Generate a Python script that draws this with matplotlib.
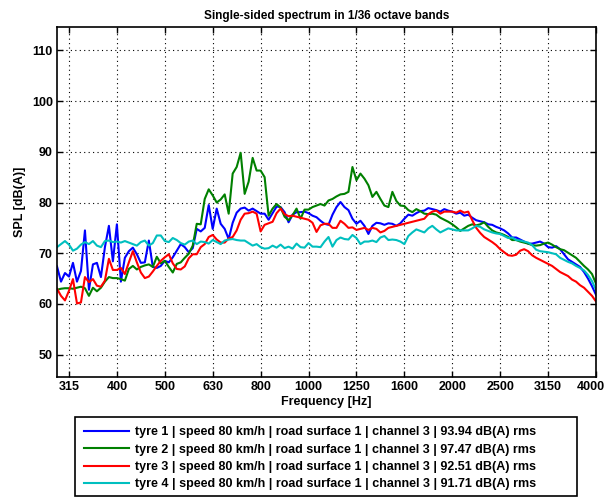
import matplotlib
matplotlib.use("Agg")
import matplotlib.pyplot as plt
from matplotlib.patches import Rectangle
from matplotlib.transforms import ScaledTranslation
import numpy as np

plt.rcParams['font.family'] = ['Liberation Sans', 'DejaVu Sans']
plt.rcParams['font.weight'] = 'bold'

# 1/36 octave band index (0 = 1000 Hz), 297 Hz .. 4000 Hz
band = np.arange(-63, 73)
freq = 1000 * 2 ** (band / 36)

# SPL in dB(A), one row per third octave
spl_tyre1 = [
    67.4, 64.4, 66.1, 65.4, 68.1, 64.4, 66.5, 74.5, 62.8, 67.8, 68.1, 65.3,
    71.2, 75.4, 68.4, 75.7, 64.4, 69.1, 70.4, 71.1, 69.8, 68.1, 68.2, 72.5,
    67.3, 67.1, 67.5, 68.5, 68.2, 69.2, 70.5, 71.8, 71.2, 70.2, 71.0, 74.8,
    74.3, 75.0, 79.5, 74.8, 78.8, 75.8, 74.8, 72.8, 76.0, 78.0, 78.8, 79.0,
    78.4, 78.8, 78.3, 77.8, 77.8, 76.6, 77.9, 79.2, 79.1, 78.1, 76.1, 77.6,
    78.1, 78.1, 78.2, 77.9, 77.4, 77.1, 76.4, 75.8, 75.6, 77.6, 79.1, 80.1,
    79.1, 78.5, 76.8, 75.8, 76.4, 75.4, 73.8, 75.4, 76.0, 75.9, 75.6, 75.9,
    75.8, 75.4, 75.9, 76.8, 77.6, 77.4, 77.9, 78.3, 78.4, 78.9, 78.7, 78.5,
    78.2, 78.7, 78.4, 78.2, 77.8, 78.0, 77.4, 77.6, 77.0, 76.5, 76.3, 76.1,
    75.7, 75.6, 75.2, 74.9, 74.5, 73.9, 73.1, 73.1, 72.7, 72.3, 71.9, 71.9,
    72.1, 72.3, 71.9, 71.2, 71.1, 71.4, 70.8, 69.8, 68.8, 68.3, 67.8, 67.3,
    66.3, 65.0, 63.5, 61.8,
]
spl_tyre2 = [
    62.8, 63.0, 63.1, 63.1, 63.0, 63.2, 63.4, 63.1, 61.6, 63.2, 62.5, 63.2,
    64.4, 65.3, 65.1, 65.1, 64.9, 64.6, 66.9, 67.5, 66.8, 67.3, 67.6, 67.8,
    67.3, 69.3, 68.0, 68.5, 67.3, 66.2, 67.9, 68.2, 69.1, 69.9, 71.5, 75.8,
    75.7, 80.7, 82.6, 81.4, 80.0, 80.6, 81.6, 77.8, 85.7, 87.0, 89.8, 81.7,
    84.1, 88.8, 86.3, 86.3, 85.0, 77.4, 78.8, 79.7, 79.0, 77.2, 76.5, 77.5,
    78.8, 76.8, 78.6, 78.6, 79.1, 79.4, 79.7, 79.4, 80.4, 80.7, 81.2, 81.6,
    81.7, 82.1, 87.0, 84.4, 85.7, 84.7, 83.4, 81.1, 82.1, 80.7, 79.4, 79.1,
    82.1, 80.3, 79.4, 79.3, 78.5, 78.1, 78.7, 78.3, 77.8, 77.7, 77.8, 77.6,
    77.0, 76.6, 76.2, 75.7, 75.1, 74.4, 74.9, 75.4, 75.7, 75.5, 75.7, 76.1,
    75.2, 74.5, 74.1, 73.9, 73.6, 73.2, 72.6, 72.6, 72.3, 72.1, 71.9, 71.6,
    71.5, 71.6, 71.9, 72.1, 71.7, 71.2, 70.8, 70.6, 70.1, 69.6, 69.1, 68.3,
    67.5, 66.8, 65.9, 64.0,
]
spl_tyre3 = [
    63.0, 61.6, 60.7, 62.6, 64.9, 60.1, 60.3, 65.3, 64.3, 64.9, 63.6, 63.4,
    64.6, 68.9, 66.7, 66.7, 67.1, 65.9, 68.2, 70.4, 68.2, 66.2, 65.1, 65.4,
    66.4, 67.5, 68.5, 69.2, 69.8, 68.0, 66.9, 66.8, 67.4, 69.0, 69.8, 69.8,
    71.2, 71.8, 73.2, 73.6, 72.7, 72.1, 72.1, 72.9, 73.2, 74.5, 76.6, 77.8,
    77.9, 78.2, 77.8, 74.3, 75.6, 75.9, 76.2, 77.9, 78.8, 77.7, 77.3, 77.4,
    77.2, 77.0, 76.8, 76.6, 76.0, 74.2, 75.5, 75.8, 75.8, 75.0, 75.0, 76.4,
    75.8, 75.0, 75.1, 74.6, 74.8, 75.0, 74.6, 75.0, 74.8, 74.1, 74.4, 75.0,
    75.2, 75.4, 75.6, 75.8, 76.0, 76.2, 76.4, 76.6, 76.8, 77.7, 78.2, 78.4,
    77.8, 78.2, 78.2, 78.2, 78.0, 78.4, 78.0, 78.2, 76.5, 75.0, 74.0, 73.2,
    72.7, 72.2, 71.6, 70.8, 70.2, 69.6, 69.5, 69.7, 70.5, 70.8, 70.4, 69.6,
    69.1, 68.7, 68.3, 67.9, 67.5, 66.9, 66.3, 65.9, 65.5, 64.8, 64.4, 63.7,
    63.2, 62.4, 61.6, 60.5,
]
spl_tyre4 = [
    71.2, 71.8, 72.4, 71.7, 70.5, 70.9, 71.7, 72.2, 71.8, 72.4, 71.5, 71.2,
    72.4, 72.5, 72.2, 72.3, 72.1, 72.4, 72.1, 71.8, 71.5, 72.2, 72.5, 71.5,
    72.0, 73.5, 73.5, 72.4, 72.2, 73.0, 72.6, 72.0, 71.7, 72.3, 72.5, 71.8,
    72.3, 72.2, 71.9, 72.6, 72.2, 71.8, 72.5, 72.7, 72.8, 72.6, 72.5, 72.5,
    72.0, 71.5, 71.8, 71.2, 70.9, 71.0, 71.5, 71.1, 71.7, 71.0, 71.3, 70.9,
    71.9, 71.2, 71.1, 72.0, 71.3, 71.3, 71.2, 72.3, 73.2, 71.3, 72.6, 73.1,
    72.8, 72.7, 73.6, 73.0, 71.8, 72.3, 72.3, 72.5, 72.2, 73.1, 73.4, 72.6,
    72.7, 72.6, 72.3, 71.8, 73.4, 74.1, 74.7, 74.4, 74.1, 74.9, 75.4, 74.7,
    74.1, 74.5, 74.9, 74.7, 74.5, 74.5, 74.5, 74.5, 74.9, 75.4, 75.2, 74.7,
    74.4, 74.1, 73.9, 73.8, 73.4, 73.0, 73.1, 72.6, 72.5, 72.3, 72.1, 71.6,
    70.7, 70.4, 70.3, 70.2, 70.0, 69.8, 69.1, 68.7, 68.3, 68.0, 67.5, 67.1,
    66.6, 65.7, 64.5, 62.8,
]

labels = [
    "tyre 1 | speed 80 km/h | road surface 1 | channel 3 | 93.94 dB(A) rms",
    "tyre 2 | speed 80 km/h | road surface 1 | channel 3 | 97.47 dB(A) rms",
    "tyre 3 | speed 80 km/h | road surface 1 | channel 3 | 92.51 dB(A) rms",
    "tyre 4 | speed 80 km/h | road surface 1 | channel 3 | 91.71 dB(A) rms",
]
colors = ['#0000ff', '#008000', '#ff0000', '#00bfbf']

# third octave ticks with nominal labels
third_oct = 1000 * 2 ** (np.arange(-5, 7) / 3)
third_oct_labels = ['315', '400', '500', '630', '800', '1000', '1250',
                    '1600', '2000', '2500', '3150', '4000']

W, H = 608, 497
fig = plt.figure(figsize=(W / 100, H / 100), dpi=100)
ax = fig.add_axes([57 / W, 1 - 377 / H, (596 - 57) / W, (377 - 27) / H])

for spl, c, lab in zip([spl_tyre1, spl_tyre2, spl_tyre3, spl_tyre4], colors, labels):
    ax.plot(freq, spl, color=c, lw=1.5, label=lab)

ax.set_xscale('log')
ax.set_xlim(freq[0], 4000)
ax.set_ylim(45.6, 114.6)
ax.set_xticks(third_oct)
ax.set_xticklabels(third_oct_labels)
ax.xaxis.set_minor_locator(matplotlib.ticker.NullLocator())
ax.set_yticks(np.arange(50, 111, 10))

ax.grid(True, which='major', color='black', linestyle=(0, (1, 3)), linewidth=0.8)
ax.tick_params(direction='in', top=True, right=True, length=4, width=1,
               labelsize=9, pad=3)
for lbl in ax.get_xticklabels() + ax.get_yticklabels():
    lbl.set_fontweight('bold')
# keep the last label inside the figure
last = ax.get_xticklabels()[-1]
last.set_transform(last.get_transform() + ScaledTranslation(-5 / 100, 0, fig.dpi_scale_trans))
for s in ax.spines.values():
    s.set_linewidth(1.2)

ax.set_title('Single-sided spectrum in 1/36 octave bands', fontsize=8.5,
             fontweight='bold', pad=6)
ax.set_xlabel('Frequency [Hz]', fontsize=9, fontweight='bold', labelpad=2)
ax.set_ylabel('SPL [dB(A)]', fontsize=9, fontweight='bold', labelpad=4)

# legend below the axes, framed by a wider box like the original
leg = fig.legend(loc='upper left', bbox_to_anchor=(84 / W, 1 - 426 / H),
                 bbox_transform=fig.transFigure, fontsize=9, frameon=False,
                 handlelength=3.6, handletextpad=0.45, labelspacing=0.44,
                 borderpad=0, borderaxespad=0)
for t in leg.get_texts():
    t.set_fontweight('bold')
fig.patches.append(Rectangle((75 / W, 1 - 496 / H), (577 - 75) / W, (496 - 417) / H,
                             transform=fig.transFigure, fill=False,
                             edgecolor='black', linewidth=1.2))

fig.savefig('out.png', dpi=100)
